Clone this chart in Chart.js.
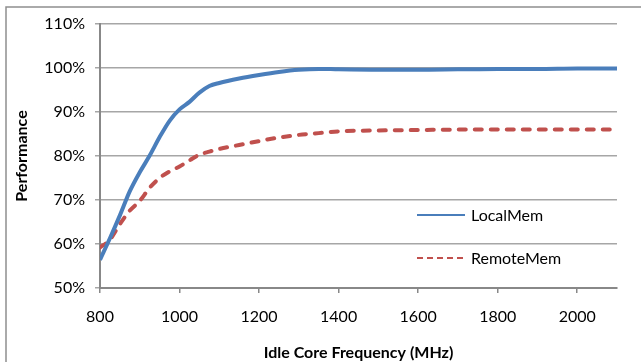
<!DOCTYPE html>
<html>
<head>
<meta charset="utf-8">
<script src="https://cdn.jsdelivr.net/npm/chart.js@4.4.1/dist/chart.umd.min.js"></script>
<style>
  html, body { margin: 0; padding: 0; background: #fff; }
  #wrap { width: 641px; height: 362px; }
</style>
</head>
<body>
<div id="wrap"><canvas id="chart" width="641" height="362"></canvas></div>
<script>
const freqs = [800, 825, 850, 875, 900, 925, 950, 975, 1000, 1025, 1050, 1075, 1100,
  1150, 1200, 1250, 1300, 1350, 1400, 1500, 1600, 1700, 1800, 1900, 2000, 2100];
const localMem = [56.4, 61.3, 66.5, 72.0, 76.3, 80.1, 84.3, 88.0, 90.6, 92.3, 94.4, 95.9, 96.6,
  97.6, 98.4, 99.1, 99.6, 99.8, 99.7, 99.6, 99.6, 99.7, 99.8, 99.8, 99.9, 99.9];
const remoteMem = [59.2, 61.0, 64.5, 67.6, 69.8, 72.8, 75.0, 76.5, 77.6, 79.0, 80.3, 81.0, 81.6,
  82.5, 83.4, 84.2, 84.8, 85.2, 85.6, 85.8, 85.9, 86.0, 86.0, 86.0, 86.0, 86.0];
const seriesNames = ["LocalMem", "RemoteMem"];
const yTicks = [50, 60, 70, 80, 90, 100, 110];

const FONT = "Lato, 'Open Sans', sans-serif";
const BLUE = "#4a7ebb";
const RED = "#c0504d";

function points(ys) {
  return freqs.map((f, i) => ({ x: f, y: ys[i] }));
}

// frame lines (top + left edge of the excel chart box)
const frame = {
  id: "frame",
  beforeDraw(chart) {
    const ctx = chart.ctx;
    ctx.save();
    ctx.strokeStyle = "#8e8e8e";
    ctx.lineWidth = 1.5;
    ctx.beginPath();
    ctx.moveTo(6, 362);
    ctx.lineTo(6, 7);
    ctx.lineTo(641, 7);
    ctx.stroke();
    ctx.restore();
  }
};

// legend sits inside the plot, lower right
const innerLegend = {
  id: "innerLegend",
  afterDraw(chart) {
    const ctx = chart.ctx;
    const a = chart.chartArea;
    const x0 = a.left + 317, x1 = a.left + 365;
    const rows = [a.top + 191, a.top + 234];
    ctx.save();
    chart.data.datasets.forEach((ds, i) => {
      const y = rows[i];
      ctx.strokeStyle = ds.borderColor;
      ctx.lineWidth = 2;
      ctx.setLineDash(i === 1 ? [6, 4] : []);
      ctx.beginPath();
      ctx.moveTo(x0, y);
      ctx.lineTo(x1, y);
      ctx.stroke();
      ctx.setLineDash([]);
      ctx.fillStyle = "#000";
      ctx.font = "16px " + FONT;
      ctx.textBaseline = "middle";
      ctx.textAlign = "left";
      ctx.fillText(ds.label, x1 + 6, y + 1);
    });
    ctx.restore();
  }
};

new Chart(document.getElementById("chart"), {
  type: "line",
  data: {
    datasets: [
      {
        label: seriesNames[0],
        data: points(localMem),
        borderColor: BLUE,
        borderWidth: 4,
        pointRadius: 0,
        cubicInterpolationMode: "monotone",
        fill: false,
      },
      {
        label: seriesNames[1],
        data: points(remoteMem),
        borderColor: RED,
        borderWidth: 4,
        borderDash: [7, 9],
        borderCapStyle: "round",
        pointRadius: 0,
        cubicInterpolationMode: "monotone",
        fill: false,
      },
    ]
  },
  options: {
    responsive: false,
    animation: false,
    events: [],
    layout: { padding: { left: 0, right: 24, top: 24, bottom: 0 } },
    plugins: { legend: { display: false }, tooltip: { enabled: false } },
    scales: {
      x: {
        type: "linear",
        min: 800,
        max: 2100,
        afterFit: s => { s.height = 74; },
        ticks: {
          stepSize: 200,
          includeBounds: false,
          padding: 14,
          maxRotation: 0,
          color: "#000",
          font: { family: FONT, size: 16 },
          callback: v => String(v),
        },
        grid: { drawOnChartArea: false, drawTicks: true, tickLength: 5, color: "#888", lineWidth: 1.5 },
        border: { color: "#888", width: 2 },
        title: {
          display: true,
          text: "Idle Core Frequency (MHz)",
          color: "#000",
          font: { family: FONT, size: 16, weight: "bold" },
          padding: { top: 0, bottom: 0 },
        },
      },
      y: {
        min: 50,
        max: 110,
        afterFit: s => { s.width = 100; },
        afterBuildTicks: s => { s.ticks = yTicks.map(v => ({ value: v })); },
        ticks: {
          padding: 10,
          color: "#000",
          font: { family: FONT, size: 16 },
          callback: v => v + "%",
        },
        grid: { color: "#a6a6a6", lineWidth: 1.5, tickLength: 5 },
        border: { color: "#888", width: 2 },
        title: {
          display: true,
          text: "Performance",
          color: "#000",
          font: { family: FONT, size: 16, weight: "bold" },
          padding: { top: 12, bottom: 0 },
        },
      }
    }
  },
  plugins: [frame, innerLegend]
});
</script>
</body>
</html>
